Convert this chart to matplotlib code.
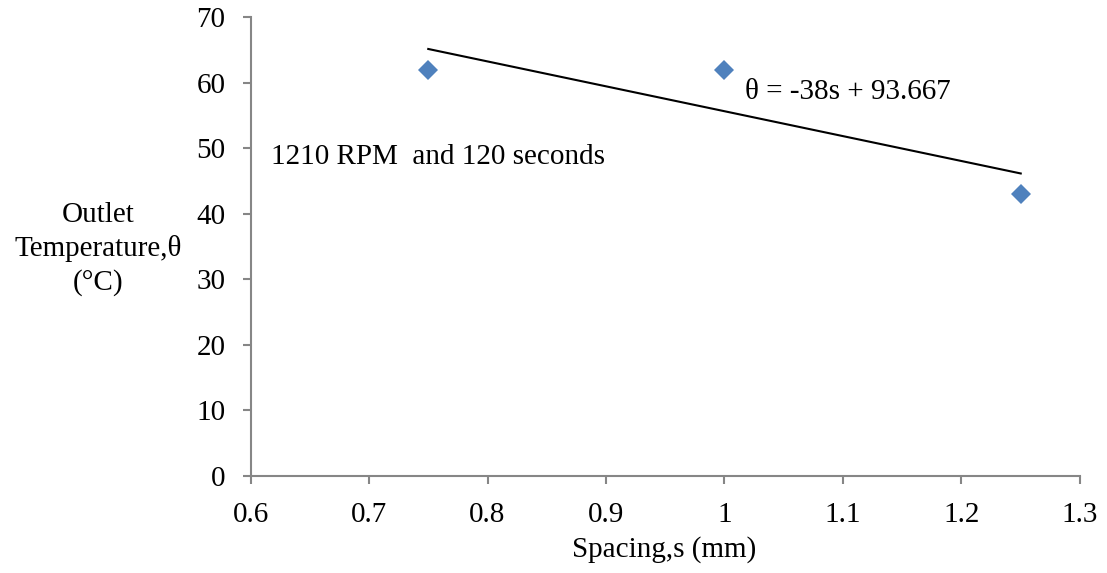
import matplotlib
matplotlib.use("Agg")
import matplotlib.pyplot as plt
import numpy as np

plt.rcParams['font.family'] = ['Liberation Serif', 'DejaVu Serif']

# Measurements at 1210 RPM for 120 s
spacing_mm = [0.75, 1.0, 1.25]
outlet_temp_c = [62, 62, 43]

# Linear trendline coefficients (theta = slope*s + intercept)
slope = -38.0
intercept = 93.667

x_ticks = [0.6, 0.7, 0.8, 0.9, 1.0, 1.1, 1.2, 1.3]
x_tick_labels = ['0.6', '0.7', '0.8', '0.9', '1', '1.1', '1.2', '1.3']
y_ticks = [0, 10, 20, 30, 40, 50, 60, 70]

fig = plt.figure(figsize=(11.07, 5.73), dpi=100)
ax = fig.add_axes([0.2263, 0.1693, 0.9756 - 0.2263, 0.9698 - 0.1693])

blue = '#4F81BD'
axis_grey = '#868686'
fs = 21

# Trendline over the data range
s_line = np.array([min(spacing_mm), max(spacing_mm)])
ax.plot(s_line, slope * s_line + intercept, color='black', lw=1.5, zorder=2)

# Data points
ax.plot(spacing_mm, outlet_temp_c, linestyle='none', marker='D', ms=10.5,
        color=blue, markeredgewidth=0, zorder=3)

ax.set_xlim(0.6, 1.3)
ax.set_ylim(0, 70)
ax.set_xticks(x_ticks)
ax.set_xticklabels(x_tick_labels)
ax.set_yticks(y_ticks)

for side in ('top', 'right'):
    ax.spines[side].set_visible(False)
for side in ('left', 'bottom'):
    ax.spines[side].set_color(axis_grey)
    ax.spines[side].set_linewidth(1.5)

ax.tick_params(axis='both', direction='out', length=6, width=1.5,
               color=axis_grey, labelsize=fs, labelcolor='black')
ax.tick_params(axis='y', pad=12)
ax.tick_params(axis='x', pad=12.5)

ax.set_xlabel('Spacing,s (mm)', fontsize=fs, va='center')
ax.xaxis.set_label_coords(0.4985, -0.161)
ax.set_ylabel('Outlet\nTemperature,θ\n(°C)', fontsize=fs, rotation=0,
              ha='center', va='center', linespacing=1.32)
ax.yaxis.set_label_coords(-0.1832, 0.495)

ax.text(1.017, 58.6, f'θ = {slope:g}s + {intercept:.3f}', fontsize=fs,
        ha='left', va='center')
ax.text(0.6173, 48.7, '1210 RPM  and 120 seconds', fontsize=fs,
        ha='left', va='center')

fig.savefig('out.png', dpi=100)
